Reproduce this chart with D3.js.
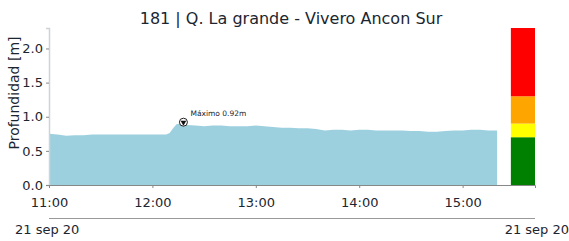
<!DOCTYPE html>
<html>
<head>
<meta charset="utf-8">
<script src="https://cdn.jsdelivr.net/npm/d3@7"></script>
<style>
  body { margin: 0; background: #fff; }
  svg text { font-family: "DejaVu Sans", sans-serif; fill: #1b2631; }
</style>
</head>
<body>
<div id="chart"></div>
<script>
(function(){
    var times = ['11:00','11:05','11:10','11:15','11:20','11:25','11:30','11:35','11:40','11:45','11:50','11:55',
        '12:00','12:05','12:08','12:10','12:12','12:14','12:16','12:18','12:20','12:25','12:30','12:35','12:40',
        '12:45','12:50','12:55','13:00','13:05','13:10','13:15','13:20','13:25','13:30','13:35','13:40','13:45',
        '13:50','13:55','14:00','14:05','14:10','14:15','14:20','14:25','14:30','14:35','14:40','14:45','14:50',
        '14:55','15:00','15:05','15:10','15:15','15:20'];
    var depth = [0.75,0.74,0.72,0.73,0.73,0.74,0.74,0.74,0.74,0.74,0.74,0.74,
        0.74,0.74,0.74,0.76,0.83,0.89,0.90,0.92,0.88,0.87,0.86,0.87,0.87,
        0.86,0.86,0.86,0.87,0.86,0.85,0.84,0.84,0.83,0.83,0.82,0.80,0.81,
        0.81,0.80,0.81,0.81,0.80,0.80,0.80,0.80,0.79,0.79,0.78,0.78,0.79,
        0.80,0.80,0.81,0.81,0.80,0.80];
    var levels = [0, 0.7, 0.9, 1.3, 2.3];
    var levelColors = ['#008000', '#ffff00', '#ffa500', '#ff0000'];
    var yTicks = [0, 0.5, 1.0, 1.5, 2.0];
    var xTicks = ['11:00','12:00','13:00','14:00','15:00'];
    var dateLabel = '21 sep 20';
    var title = '181 | Q. La grande - Vivero Ancon Sur';

    var parse = d3.timeParse('%H:%M');
    var data = times.map((t, i) => ({t: parse(t), v: depth[i]}));
    var maxD = data.reduce((a, b) => b.v > a.v ? b : a);

    var W = 569, H = 241;
    var m = {left: 49, right: 34, top: 28, bottom: 56};

    var x = d3.scaleTime().domain([parse('11:00'), parse('15:42')]).range([m.left, W - m.right]);
    var y = d3.scaleLinear().domain([0, 2.3]).range([H - m.bottom, m.top]);

    var svg = d3.select('#chart').append('svg').attr('width', W).attr('height', H);

    svg.append('text').attr('x', 291).attr('y', 24).attr('text-anchor', 'middle')
        .style('font-size', '16px').text(title);

    // area
    var area = d3.area().x(d => x(d.t)).y0(y(0)).y1(d => y(d.v));
    svg.append('path').datum(data).attr('d', area).attr('fill', '#9dd0df');

    // threshold bar
    var bx0 = x(parse('15:28')), bx1 = x(parse('15:42'));
    levelColors.forEach((c, i) => {
        svg.append('rect').attr('x', bx0).attr('width', bx1 - bx0)
            .attr('y', y(levels[i + 1])).attr('height', y(levels[i]) - y(levels[i + 1]))
            .attr('fill', c);
    });

    // y axis
    var ya = svg.append('g').attr('transform', 'translate(' + m.left + ',0)')
        .call(d3.axisLeft(y).tickValues(yTicks).tickFormat(d3.format('.1f')).tickSize(3).tickPadding(3));
    ya.select('.domain').attr('stroke', '#cfd3d6').attr('stroke-width', 1.5);
    ya.selectAll('.tick line').attr('stroke', '#888');
    ya.selectAll('text').style('font-size', '13px').attr('fill', '#1b2631');

    svg.append('text').attr('transform', 'translate(19,93) rotate(-90)')
        .attr('text-anchor', 'middle').style('font-size', '14px').text('Profundidad [m]');

    // x axis
    var xa = svg.append('g').attr('transform', 'translate(0,' + y(0) + ')')
        .call(d3.axisBottom(x).tickValues(xTicks.map(parse)).tickFormat(d3.timeFormat('%H:%M')).tickSize(3).tickPadding(10));
    xa.select('.domain').attr('stroke', '#888').attr('stroke-width', 1);
    xa.selectAll('.tick line').attr('stroke', '#888');
    xa.selectAll('text').style('font-size', '13px').attr('fill', '#1b2631');

    // secondary date axis
    svg.append('line').attr('x1', m.left).attr('x2', W - m.right).attr('y1', 218.5).attr('y2', 218.5)
        .attr('stroke', '#999').attr('stroke-width', 1);
    svg.append('text').attr('x', 15).attr('y', 234).style('font-size', '13px').text(dateLabel);
    svg.append('text').attr('x', 569).attr('y', 234).attr('text-anchor', 'end').style('font-size', '13px').text(dateLabel);

    // max marker
    var mx = x(maxD.t), my = y(maxD.v);
    svg.append('circle').attr('cx', mx).attr('cy', my).attr('r', 4)
        .attr('fill', '#fff').attr('stroke', '#222').attr('stroke-width', 1);
    svg.append('path').attr('d', d3.symbol(d3.symbolTriangle, 14)())
        .attr('transform', 'translate(' + mx + ',' + (my + 0.3) + ') rotate(180)').attr('fill', '#111');
    svg.append('text').attr('x', mx + 7).attr('y', my - 6).style('font-size', '7.5px')
        .text('Máximo ' + maxD.v.toFixed(2) + 'm');
})();
</script>
</body>
</html>
